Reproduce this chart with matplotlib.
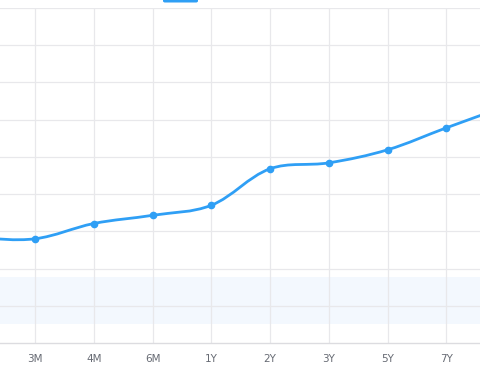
import numpy as np
import matplotlib
matplotlib.use("Agg")
import matplotlib.pyplot as plt
from matplotlib.path import Path
from matplotlib.patches import PathPatch, FancyBboxPatch

# tenors on the category axis and the yield values
tenors = ["1M", "3M", "4M", "6M", "1Y", "2Y", "3Y", "5Y", "7Y", "10Y"]
yields = [1.482, 1.480, 1.521, 1.543, 1.570, 1.668, 1.684, 1.719, 1.778, 1.835]
band = [1.251, 1.376]
y_ticks = [1.2, 1.3, 1.4, 1.5, 1.6, 1.7, 1.8, 1.9, 2.0, 2.1]

LINE = "#2f9ff5"
GRID = "#e8e8eb"


def smooth_path(ax, xs, ys, smooth=0.35):
    """ECharts-like smoothed polyline, built as cubic bezier in display space."""
    pts = ax.transData.transform(np.column_stack([xs, ys]))
    n = len(pts)
    verts = [pts[0]]
    codes = [Path.MOVETO]
    cps_out, cps_in = [], []
    for i in range(n):
        p = pts[i]
        prev_p = pts[i - 1] if i > 0 else p
        next_p = pts[i + 1] if i < n - 1 else p
        v = (next_p - prev_p) * smooth
        d0 = np.hypot(*(p - prev_p))
        d1 = np.hypot(*(p - next_p))
        s = d0 + d1
        if s:
            d0, d1 = d0 / s, d1 / s
        cps_in.append(p - v * d0)
        cps_out.append(p + v * d1)
    for i in range(n - 1):
        verts += [cps_out[i], cps_in[i + 1], pts[i + 1]]
        codes += [Path.CURVE4] * 3
    inv = ax.transData.inverted()
    return Path(inv.transform(np.array(verts)), codes)


fig = plt.figure(figsize=(4.8, 3.84), dpi=100)
ax = fig.add_axes([0, 41 / 384, 1, 335 / 384])

x = np.arange(len(tenors))
ax.set_xticks(x)
ax.set_xticklabels(tenors)
ax.set_yticks([])

# the frame shows only part of the category axis
step = 58.75
ax.set_xlim(1 - 35 / step, 1 + 445 / step)
ax.set_ylim(y_ticks[0], y_ticks[-1])

ax.axhspan(band[0], band[1], color="#f3f8fe", zorder=0, lw=0)

for yt in y_ticks[1:]:
    ax.axhline(yt, color=GRID, lw=0.9, zorder=1)
for xi in x:
    ax.axvline(xi, color=GRID, lw=0.9, zorder=1)

path = smooth_path(ax, x, yields)
ax.add_patch(PathPatch(path, fill=False, ec=LINE, lw=2.0, zorder=3,
                       capstyle="round", joinstyle="round"))
ax.plot(x, yields, "o", color=LINE, ms=4.5, zorder=4)
ax.set_xlim(1 - 35 / step, 1 + 445 / step)

ax.tick_params(axis="x", length=0, pad=8, labelsize=7.5, labelcolor="#666a73")
for side in ["top", "left", "right"]:
    ax.spines[side].set_visible(False)
ax.spines["bottom"].set_color("#dcdce0")
ax.spines["bottom"].set_linewidth(1.0)

# legend handle, cut off at the top of the frame
fig.patches.append(FancyBboxPatch((163 / 480, 381.5 / 384), 35 / 480, 6 / 384,
                                  boxstyle="round,pad=0,rounding_size=0.004",
                                  transform=fig.transFigure, fc=LINE, ec="none"))

fig.savefig("out.png", dpi=100)
